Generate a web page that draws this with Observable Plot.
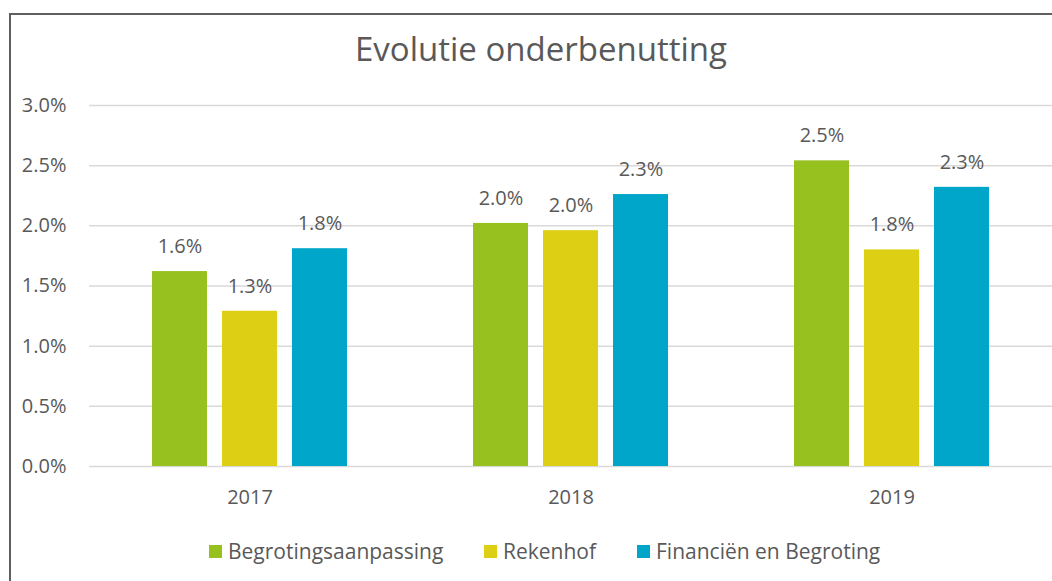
<!DOCTYPE html>
<html>
<head>
<meta charset="utf-8">
<script src="https://cdn.jsdelivr.net/npm/d3@7"></script>
<script src="https://cdn.jsdelivr.net/npm/@observablehq/plot@0.6"></script>
<style>
  body { margin: 0; background: #fff; font-family: "Open Sans", sans-serif; color: #595959; }
  #wrap { position: relative; width: 1052px; height: 581px; overflow: hidden; background: #fff; }
  #frame { position: absolute; left: 9px; top: 13px; width: 1200px; height: 800px;
           border-left: 2px solid #5f5f5f; border-top: 2px solid #5f5f5f; pointer-events: none; }
  #title { position: relative; height: 90px; }
  #title span { position: absolute; top: 32px; left: 0; width: 1082px; text-align: center;
                font-size: 33px; line-height: 33px; white-space: nowrap; }
  #chart { height: 440px; }
  #chart svg { display: block; }
  #legend { position: relative; height: 51px; }
  .item { position: absolute; top: 11px; display: flex; align-items: center; font-size: 21px; line-height: 21px; white-space: nowrap; }
  .sw { width: 13px; height: 13px; margin-right: 6px; }
</style>
</head>
<body>
<div id="wrap">
  <div id="title"><span></span></div>
  <div id="chart"></div>
  <div id="legend"></div>
  <div id="frame"></div>
</div>
<script>
const title = "Evolutie onderbenutting";
const years = ["2017", "2018", "2019"];
const series = ["Begrotingsaanpassing", "Rekenhof", "Financiën en Begroting"];
const colors = ["#97C11F", "#DDCF14", "#00A6C9"];
const begrotingsaanpassing = [1.62, 2.02, 2.54];
const rekenhof = [1.29, 1.96, 1.80];
const financien = [1.81, 2.26, 2.32];
const yTicks = [0, 0.5, 1.0, 1.5, 2.0, 2.5, 3.0];
const legendLefts = [209, 484, 637];

const seriesValues = [begrotingsaanpassing, rekenhof, financien];
const data = [];
years.forEach((yr, i) => {
  series.forEach((s, j) => {
    data.push({year: yr, series: s, value: seriesValues[j][i]});
  });
});

document.querySelector("#title span").textContent = title;

const fmt = d => d.toFixed(1) + "%";

const chart = Plot.plot({
  width: 1052,
  height: 440,
  marginLeft: 88,
  marginRight: 0,
  marginTop: 15,
  marginBottom: 64,
  style: {fontFamily: "'Open Sans', sans-serif", fontSize: "20px", color: "#595959", background: "transparent"},
  fx: {domain: years, padding: 0, label: null},
  x: {domain: series, paddingInner: 0.211, paddingOuter: 0.87, axis: null},
  y: {domain: [0, 3], label: null, axis: null},
  color: {domain: series, range: colors},
  marks: [
    Plot.gridY(yTicks, {stroke: "#d9d9d9", strokeOpacity: 1, strokeWidth: 1.5}),
    Plot.axisY({ticks: yTicks, tickFormat: fmt, tickSize: 0, tickPadding: 23, fill: "#595959", fontSize: 20, label: null}),
    Plot.axisFx({anchor: "bottom", tickSize: 0, tickPadding: 23, fill: "#595959", fontSize: 20, label: null}),
    Plot.barY(data, {fx: "year", x: "series", y: "value", fill: "series"}),
    Plot.text(data, {fx: "year", x: "series", y: "value", text: d => fmt(d.value), dy: -25, fill: "#595959", fontSize: 20})
  ]
});
document.getElementById("chart").appendChild(chart);

const legend = document.getElementById("legend");
series.forEach((s, i) => {
  const it = document.createElement("div");
  it.className = "item";
  it.style.left = legendLefts[i] + "px";
  const sw = document.createElement("span");
  sw.className = "sw";
  sw.style.background = colors[i];
  const tx = document.createElement("span");
  tx.textContent = s;
  it.appendChild(sw);
  it.appendChild(tx);
  legend.appendChild(it);
});
</script>
</body>
</html>
